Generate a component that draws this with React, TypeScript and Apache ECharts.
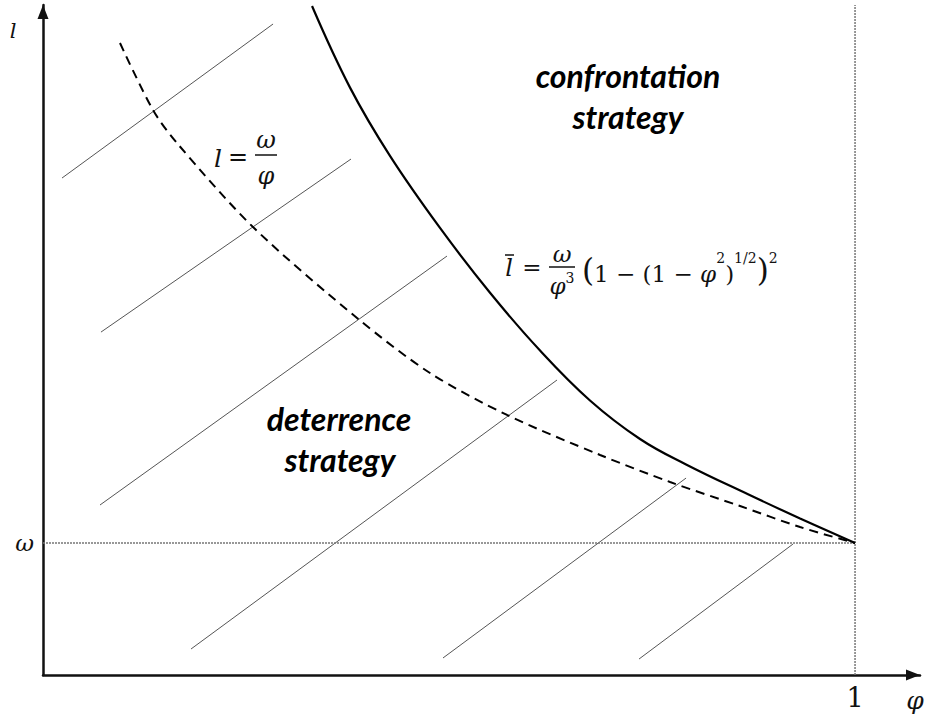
import React, { useEffect, useRef } from 'react';
import * as echarts from 'echarts';

// Axis bounds (φ on x, l on y; ω = 1)
const X_MAX = 1.08;
const Y_MAX = 5.076;
const OMEGA = 1;
const PHI_ONE = 1;

// Tick labels
const xTickValues = [1];
const xTickLabels = ['1'];
const yTickValues = [1];
const yTickLabels = ['ω'];

// Solid curve  l̄ = ω/φ³ (1 − (1 − φ²)^½)²
const solidPhi = [0.3313, 0.3781, 0.4273, 0.4889, 0.5505, 0.6121, 0.6736, 0.7352, 0.7919, 0.8682, 0.9323, 1.0];
const solidL = [5.068, 4.45, 3.933, 3.387, 2.896, 2.458, 2.08, 1.788, 1.595, 1.369, 1.186, 1.0];

// Dashed curve  l = ω/φ
const dashedPhi = [0.0948, 0.1355, 0.165, 0.2586, 0.3867, 0.4766, 0.5714, 0.686, 0.7722, 0.8584, 0.9323, 1.0];
const dashedL = [4.788, 4.28, 4.03, 3.394, 2.705, 2.288, 1.97, 1.667, 1.462, 1.28, 1.121, 1.0];

// Hatch segments (start / end)
const hatchStartPhi = [0.0234, 0.0714, 0.0702, 0.1823, 0.4926, 0.734];
const hatchStartL = [3.765, 2.598, 1.288, 0.197, 0.129, 0.121];
const hatchEndPhi = [0.2833, 0.3793, 0.4975, 0.633, 0.7919, 0.9236];
const hatchEndL = [4.932, 3.909, 3.174, 2.235, 1.492, 0.992];

const SERIF = 'DejaVu Serif';
const SANS = 'Lato';

export default function App() {
  const ref = useRef<HTMLDivElement>(null);

  useEffect(() => {
    if (!ref.current) return;
    const chart = echarts.init(ref.current, null, { renderer: 'svg' });

    const hatchSeries = hatchStartPhi.map((p, i) => ({
      type: 'line',
      name: 'hatch' + i,
      data: [
        [p, hatchStartL[i]],
        [hatchEndPhi[i], hatchEndL[i]],
      ],
      symbol: 'none',
      silent: true,
      lineStyle: { color: '#555', width: 1 },
      z: 1,
    }));

    const T = (x: number, y: number, text: string, size: number, opts: any = {}) => ({
      type: 'text',
      x,
      y,
      style: {
        text,
        fontFamily: opts.family || SERIF,
        fontSize: size,
        fontStyle: opts.italic === false ? 'normal' : 'italic',
        fontWeight: opts.weight || 'normal',
        fill: opts.fill || '#111',
        align: opts.align || 'center',
        verticalAlign: 'middle',
      },
    });

    const rs = (size: number, italic: boolean, lh: number, va: string) => ({
      fontFamily: SERIF,
      fontSize: size,
      fontStyle: italic ? 'italic' : 'normal',
      fill: '#111',
      color: '#111',
      lineHeight: lh,
      verticalAlign: va,
    });

    const option: any = {
      animation: false,
      backgroundColor: '#fff',
      grid: { left: 43, right: 5, top: 5, bottom: 45, containLabel: false, outerBoundsMode: 'none' },
      xAxis: {
        type: 'value',
        min: 0,
        max: X_MAX,
        axisLine: {
          show: true,
          onZero: false,
          symbol: ['none', 'triangle'],
          symbolSize: [11, 14],
          symbolOffset: [0, -7],
          lineStyle: { color: '#111', width: 2.5 },
        },
        axisTick: { show: false },
        splitLine: { show: false },
        axisLabel: {
          customValues: xTickValues,
          formatter: (v: number) => xTickLabels[xTickValues.indexOf(v)] ?? '',
          fontFamily: SERIF,
          fontSize: 27,
          color: '#111',
          margin: 9,
        },
      },
      yAxis: {
        type: 'value',
        min: 0,
        max: Y_MAX,
        axisLine: {
          show: true,
          onZero: false,
          symbol: ['none', 'triangle'],
          symbolSize: [11, 14],
          symbolOffset: [0, -7],
          lineStyle: { color: '#111', width: 2.5 },
        },
        axisTick: { show: false },
        splitLine: { show: false },
        axisLabel: {
          customValues: yTickValues,
          formatter: (v: number) => yTickLabels[yTickValues.indexOf(v)] ?? '',
          fontFamily: SERIF,
          fontStyle: 'italic',
          fontSize: 23,
          color: '#111',
          margin: 9,
        },
      },
      series: [
        ...hatchSeries,
        {
          type: 'line',
          name: 'omega',
          data: [
            [0, OMEGA],
            [PHI_ONE, OMEGA],
          ],
          symbol: 'none',
          silent: true,
          lineStyle: { color: '#777', width: 1.5, type: [2, 1] },
          z: 1,
        },
        {
          type: 'line',
          name: 'phiOne',
          data: [
            [PHI_ONE, 0],
            [PHI_ONE, Y_MAX],
          ],
          symbol: 'none',
          silent: true,
          lineStyle: { color: '#777', width: 1.5, type: [2, 1] },
          z: 1,
        },
        {
          type: 'line',
          name: 'dashed',
          data: dashedPhi.map((p, i) => [p, dashedL[i]]),
          smooth: 0.3,
          symbol: 'none',
          silent: true,
          lineStyle: { color: '#000', width: 2, type: [9, 6] },
          z: 3,
        },
        {
          type: 'line',
          name: 'solid',
          data: solidPhi.map((p, i) => [p, solidL[i]]),
          smooth: 0.4,
          symbol: 'none',
          silent: true,
          lineStyle: { color: '#000', width: 2.2 },
          z: 3,
        },
      ],
      graphic: [
        // axis names
        T(13, 31, 'l', 21),
        T(915, 700, 'φ', 25),
        // l = ω / φ
        T(218, 158, 'l', 25),
        T(238, 157, '=', 24, { italic: false }),
        T(266, 140, 'ω', 24),
        { type: 'line', shape: { x1: 255, y1: 155, x2: 277, y2: 155 }, style: { stroke: '#111', lineWidth: 1.5 } },
        T(266, 176, 'φ', 24),
        // l̄ = ω/φ³ (1 − (1 − φ²)^½)²
        T(509, 268, 'l', 24),
        { type: 'line', shape: { x1: 505, y1: 255, x2: 514, y2: 255 }, style: { stroke: '#111', lineWidth: 1.5 } },
        T(532, 267, '=', 23, { italic: false }),
        T(562, 254, 'ω', 23),
        { type: 'line', shape: { x1: 549, y1: 267, x2: 575, y2: 267 }, style: { stroke: '#111', lineWidth: 1.5 } },
        {
          type: 'text',
          x: 562,
          y: 284,
          style: {
            text: '{i|φ}{s|3}',
            rich: { i: rs(23, true, 26, 'bottom'), s: rs(14, false, 14, 'top') },
            align: 'center',
            verticalAlign: 'middle',
          },
        },
        {
          type: 'text',
          x: 582,
          y: 268,
          style: {
            text: '{p|(}{n|1 − (1 − }{i|φ}{s|2}{n|)}{s|1/2}{p|)}{s|2}',
            rich: {
              p: rs(31, false, 34, 'bottom'),
              n: rs(23, false, 30, 'bottom'),
              i: rs(23, true, 30, 'bottom'),
              s: rs(14, false, 24, 'top'),
            },
            align: 'left',
            verticalAlign: 'middle',
          },
        },
        // region labels
        T(628, 75, 'confrontation', 32, { family: SANS, weight: 'bold', fill: '#000' }),
        T(628, 116, 'strategy', 32, { family: SANS, weight: 'bold', fill: '#000' }),
        T(339, 418, 'deterrence', 32, { family: SANS, weight: 'bold', fill: '#000' }),
        T(340, 459, 'strategy', 32, { family: SANS, weight: 'bold', fill: '#000' }),
      ],
    };

    chart.setOption(option);
    return () => chart.dispose();
  }, []);

  return <div ref={ref} style={{ position: 'fixed', left: 0, top: 0, width: 925, height: 720, background: '#fff' }} />;
}
